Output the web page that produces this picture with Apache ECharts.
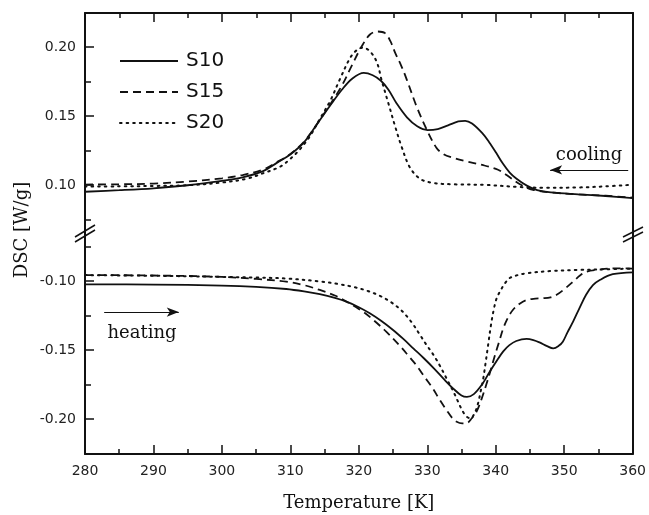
<!DOCTYPE html>
<html>
<head>
<meta charset="utf-8">
<script src="https://cdn.jsdelivr.net/npm/echarts@6/dist/echarts.min.js"></script>
<style>html,body{margin:0;padding:0;background:#fff;}#c{width:649px;height:515px;}</style>
</head>
<body>
<div id="c"></div>
<script>
// ---- data ----
const seriesNames = ['S10', 'S15', 'S20'];
const xTickLabels = [280, 290, 300, 310, 320, 330, 340, 350, 360];
const upperTickLabels = [0.10, 0.15, 0.20];
const upperMinorTicks = [0.075, 0.125, 0.175];
const lowerTickLabels = [-0.20, -0.15, -0.10];
const lowerMinorTicks = [-0.175, -0.125, -0.075];

const s10Cooling = [[280,0.0951],[285,0.0962],[290,0.0976],[295,0.0998],[300,0.1030],[303,0.1055],[306,0.1100],[308,0.1160],[310,0.1222],[312,0.1310],[314,0.1450],[316,0.1590],[317.5,0.1690],[319,0.1770],[320.7,0.1812],[322,0.1795],[323.2,0.1755],[324.3,0.1690],[325.5,0.1590],[327,0.1490],[328.5,0.1425],[330,0.1398],[331.5,0.1405],[333,0.1432],[334.5,0.1460],[335.5,0.1465],[336.5,0.1445],[338,0.1375],[339,0.1310],[340,0.1235],[341,0.1155],[342,0.1090],[343,0.1045],[344.5,0.0995],[346,0.0963],[348,0.0946],[352,0.0932],[356,0.0920],[360,0.0905]];
const s15Cooling = [[280,0.1003],[285,0.1005],[290,0.1010],[295,0.1025],[300,0.1048],[303,0.1072],[306,0.1112],[308,0.1165],[310,0.1225],[312,0.1315],[314,0.1450],[316,0.1600],[317.5,0.1720],[319,0.1870],[320.4,0.2005],[321.6,0.2090],[322.7,0.2112],[323.8,0.2100],[324.6,0.2040],[325.3,0.1955],[326.2,0.1860],[327,0.1760],[328.4,0.1570],[329.9,0.1400],[331.3,0.1270],[332.3,0.1225],[333.5,0.1200],[335.7,0.1170],[338,0.1145],[340.3,0.1110],[341.6,0.1070],[343.5,0.1005],[345.4,0.0965],[348,0.0946],[352,0.0932],[356,0.0922],[360,0.0908]];
const s20Cooling = [[280,0.0988],[285,0.0990],[290,0.0993],[295,0.0998],[300,0.1018],[303.6,0.1045],[306,0.1085],[308.5,0.1133],[310,0.1190],[311.4,0.1260],[312.8,0.1350],[314.3,0.1480],[315.8,0.1610],[317.2,0.1765],[318.7,0.1920],[319.7,0.1978],[320.6,0.1995],[321.6,0.1968],[322.6,0.1890],[323.3,0.1760],[324.3,0.1590],[325.3,0.1420],[326.2,0.1280],[327.4,0.1130],[328.9,0.1045],[330.8,0.1015],[333.7,0.1005],[338.6,0.1000],[343.5,0.0985],[347,0.0980],[352,0.0982],[356,0.0990],[360,0.1002]];

const s10Heating = [[280,-0.1024],[290,-0.1026],[300,-0.1033],[305,-0.1042],[309.4,-0.1058],[312,-0.1075],[314.3,-0.1095],[316.5,-0.1122],[318.2,-0.1150],[320,-0.1190],[321.6,-0.1234],[323.3,-0.1290],[325,-0.1355],[326.5,-0.1420],[328,-0.1490],[329.5,-0.1560],[331,-0.1635],[332.5,-0.1715],[333.8,-0.1780],[335,-0.1830],[335.8,-0.1840],[336.8,-0.1820],[338,-0.1750],[339.1,-0.1660],[340.2,-0.1575],[341.1,-0.1510],[342,-0.1465],[343,-0.1435],[344.5,-0.1420],[345.5,-0.1428],[346.4,-0.1445],[347.5,-0.1472],[348.4,-0.1488],[349.2,-0.1470],[349.8,-0.1440],[350.5,-0.1370],[351.3,-0.1295],[352.2,-0.1200],[353.2,-0.1100],[354.2,-0.1030],[355.2,-0.0993],[357.1,-0.0951],[360,-0.0937]];
const s15Heating = [[280,-0.0957],[290,-0.0960],[300,-0.0970],[305,-0.0985],[309.4,-0.1005],[312,-0.1030],[314.3,-0.1065],[316.5,-0.1105],[318.2,-0.1150],[320.6,-0.1222],[322.3,-0.1290],[324,-0.1367],[326,-0.1470],[327.3,-0.1545],[328.4,-0.1610],[329.6,-0.1695],[330.8,-0.1778],[331.8,-0.1860],[332.8,-0.1935],[333.6,-0.1990],[334.3,-0.2020],[335.1,-0.2032],[335.8,-0.2030],[336.5,-0.1995],[337.2,-0.1947],[337.9,-0.1860],[338.6,-0.1754],[339.3,-0.1640],[339.9,-0.1536],[340.5,-0.1440],[341.1,-0.1343],[341.8,-0.1265],[342.5,-0.1210],[343.5,-0.1165],[344.5,-0.1138],[345.8,-0.1128],[346.9,-0.1125],[348,-0.1118],[348.9,-0.1100],[350,-0.1060],[351.3,-0.1005],[352.3,-0.0960],[353.2,-0.0933],[355,-0.0918],[357.6,-0.0908],[360,-0.0910]];
const s20Heating = [[280,-0.0957],[290,-0.0962],[300,-0.0970],[305,-0.0975],[309.4,-0.0982],[314.3,-0.1003],[317,-0.1022],[319.2,-0.1043],[321.3,-0.1072],[323.1,-0.1108],[324.6,-0.1150],[326,-0.1203],[327,-0.1255],[327.9,-0.1312],[328.9,-0.1388],[329.9,-0.1464],[330.9,-0.1535],[331.8,-0.1610],[332.8,-0.1705],[333.8,-0.1800],[334.5,-0.1875],[335.2,-0.1947],[335.8,-0.1985],[336.3,-0.1995],[336.9,-0.1960],[337.4,-0.1890],[337.8,-0.1800],[338.2,-0.1700],[338.5,-0.1600],[338.9,-0.1460],[339.3,-0.1320],[339.7,-0.1210],[340.1,-0.1130],[340.6,-0.1078],[341.3,-0.1020],[342,-0.0980],[343,-0.0960],[344.5,-0.0944],[347.9,-0.0928],[352,-0.0920],[356,-0.0915],[360,-0.0910]];

// annotation arrows (data coordinates)
const coolingArrow = [[359.3, 0.1109], [347.9, 0.1109]];
const heatingArrow = [[282.8, -0.1225], [293.7, -0.1225]];

// ---- chart ----
const chart = echarts.init(document.getElementById('c'), null, {renderer: 'canvas'});
const INK = '#111';
const lineStyles = {
  S10: {type: 'solid', width: 1.8},
  S15: {type: [8, 5], width: 1.8},
  S20: {type: [1.6, 5], width: 2, cap: 'round'}
};
const labelFont = {fontFamily: 'DejaVu Sans', fontSize: 14, color: '#222'};

function xAxisDef(grid, pos, showLabel) {
  return {
    type: 'value', gridIndex: grid, position: pos, min: 280, max: 360, interval: 10,
    axisLine: {show: true, onZero: false, lineStyle: {color: INK, width: 2}},
    axisTick: {show: true, inside: true, length: 9, lineStyle: {color: INK, width: 1.5}},
    minorTick: {show: true, splitNumber: 2, length: 5, lineStyle: {color: INK, width: 1.5}},
    axisLabel: Object.assign({show: showLabel, margin: 10}, labelFont),
    splitLine: {show: false}, minorSplitLine: {show: false},
    name: showLabel ? 'Temperature [K]' : '',
    nameLocation: 'middle', nameGap: 40,
    nameTextStyle: {fontFamily: 'DejaVu Serif', fontSize: 18, color: INK}
  };
}
function yAxesDef(grid, min, max, majors, minors) {
  return [
    {type: 'value', gridIndex: grid, position: 'left', min: min, max: max,
     axisLine: {show: true, onZero: false, lineStyle: {color: INK, width: 2}},
     axisTick: {show: true, inside: true, length: 9, customValues: majors, lineStyle: {color: INK, width: 1.5}},
     axisLabel: Object.assign({show: true, margin: 9, customValues: majors, formatter: v => v.toFixed(2)}, labelFont),
     splitLine: {show: false}},
    {type: 'value', gridIndex: grid, position: 'left', min: min, max: max,
     axisLine: {show: false},
     axisTick: {show: true, inside: true, length: 6, customValues: minors, lineStyle: {color: INK, width: 1.5}},
     axisLabel: {show: false}, splitLine: {show: false}},
    {type: 'value', gridIndex: grid, position: 'right', min: min, max: max,
     axisLine: {show: true, onZero: false, lineStyle: {color: INK, width: 2}},
     axisTick: {show: false}, axisLabel: {show: false}, splitLine: {show: false}}
  ];
}

function mkSeries(name, data, grid, yIdx, extra) {
  return Object.assign({
    name: name, type: 'line', data: data, xAxisIndex: grid, yAxisIndex: yIdx,
    smooth: 0.35, symbol: 'none', showSymbol: false, silent: true,
    lineStyle: Object.assign({color: INK}, lineStyles[name]),
    itemStyle: {color: INK}
  }, extra || {});
}
function arrowMark(pts) {
  return {
    markLine: {
      silent: true, animation: false,
      symbol: ['none', 'arrow'], symbolSize: [7, 12],
      label: {show: false},
      lineStyle: {color: INK, width: 1.2, type: 'solid'},
      data: [[{coord: pts[0]}, {coord: pts[1]}]]
    }
  };
}

const option = {
  animation: false,
  backgroundColor: '#fff',
  grid: [
    {left: 85, right: 16, top: 13, height: 220},
    {left: 85, right: 16, top: 233, height: 221}
  ],
  xAxis: [xAxisDef(0, 'top', false), xAxisDef(1, 'bottom', true)],
  yAxis: yAxesDef(0, 0.0652, 0.2246, upperTickLabels, upperMinorTicks)
    .concat(yAxesDef(1, -0.2254, -0.0652, lowerTickLabels, lowerMinorTicks)),
  legend: {
    data: seriesNames, orient: 'vertical', left: 119, top: 51,
    itemWidth: 58, itemHeight: 14, itemGap: 11, padding: 0,
    itemStyle: {opacity: 0, borderWidth: 0},
    textStyle: {fontFamily: 'DejaVu Sans', fontSize: 20, color: INK, padding: [0, 0, 0, 3]},
    selectedMode: false
  },
  series: [
    mkSeries('S10', s10Cooling, 0, 0, arrowMark(coolingArrow)),
    mkSeries('S15', s15Cooling, 0, 0),
    mkSeries('S20', s20Cooling, 0, 0),
    mkSeries('S10', s10Heating, 1, 3, arrowMark(heatingArrow)),
    mkSeries('S15', s15Heating, 1, 3),
    mkSeries('S20', s20Heating, 1, 3)
  ],
  graphic: [
    {type: 'text', x: 22, y: 230, rotation: Math.PI / 2,
     style: {text: 'DSC [W/g]', font: '18px "DejaVu Serif"', fill: INK, align: 'center', verticalAlign: 'middle'}},
    {type: 'text', x: 589, y: 155,
     style: {text: 'cooling', font: '18px "DejaVu Serif"', fill: INK, align: 'center', verticalAlign: 'middle'}},
    {type: 'text', x: 142, y: 333,
     style: {text: 'heating', font: '18px "DejaVu Serif"', fill: INK, align: 'center', verticalAlign: 'middle'}},
    {type: 'line', shape: {x1: 75, y1: 237, x2: 95, y2: 225}, style: {stroke: INK, lineWidth: 1.5}},
    {type: 'line', shape: {x1: 75, y1: 242, x2: 95, y2: 230}, style: {stroke: INK, lineWidth: 1.5}},
    {type: 'line', shape: {x1: 623, y1: 237, x2: 643, y2: 227}, style: {stroke: INK, lineWidth: 1.5}},
    {type: 'line', shape: {x1: 623, y1: 242, x2: 643, y2: 232}, style: {stroke: INK, lineWidth: 1.5}}
  ]
};
chart.setOption(option);
</script>
</body>
</html>
